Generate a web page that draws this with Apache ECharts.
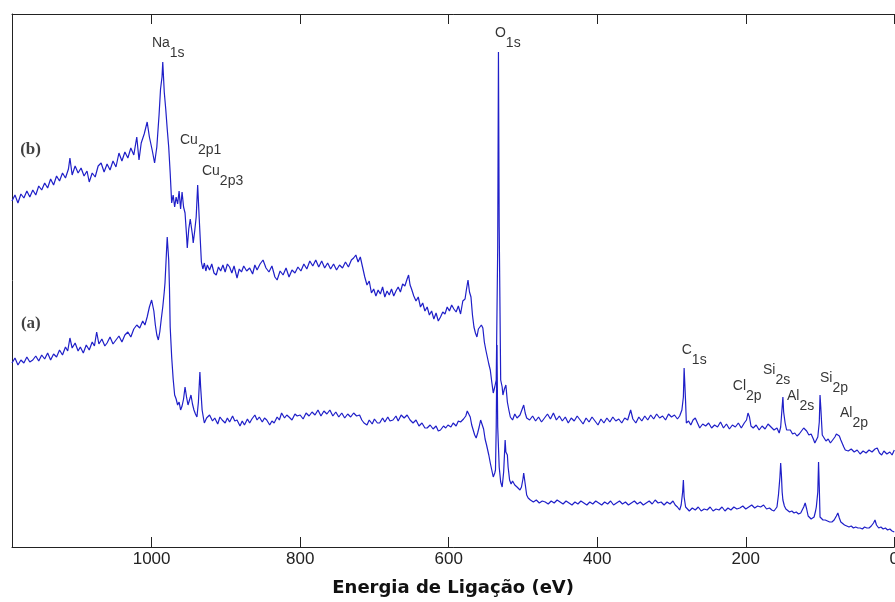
<!DOCTYPE html>
<html>
<head>
<meta charset="utf-8">
<script src="https://cdn.jsdelivr.net/npm/echarts@6/dist/echarts.min.js"></script>
<style>
html,body{margin:0;padding:0;background:#fff;}
#chart{width:895px;height:602px;}
</style>
</head>
<body>
<div id="chart"></div>
<script>
// Binding energy (eV), intensity (arb. units)
const spectrumB = [
[1188,346],[1184,352],[1180,344],[1176,353],[1172,349],[1168,356],[1164,350],[1160,357],[1156,352],[1152,361],
[1148,357],[1144,364],[1140,359],[1136,368],[1132,362],[1128,371],[1124,366],[1120,374],[1116,369],[1112,378],
[1110,389],[1107,372],[1103,381],[1099,374],[1095,379],[1091,371],[1087,376],[1084,365],[1080,374],[1076,370],
[1072,381],[1068,384],[1064,375],[1060,383],[1056,377],[1052,386],[1048,380],[1044,394],[1040,386],[1036,395],
[1032,389],[1028,399],[1024,392],[1020,410],[1017,387],[1014,404],[1010,413],[1006,425],[1003,410],[999,396],
[996,384],[993,400],[990,432],[988,458],[986,470],[985,485],[983,455],[981,438],[979,418],[977,400],
[975,374],[973,344],[971,352],[969,340],[967,350],[965,343],[963,356],[961,338],[959,355],[957,340],
[955,334],[953,312],[952,299],[950,318],[948,328],[947,330],[945,312],[944,304],[942,316],[940,330],
[938,362],[936,330],[934,300],[933,285],[931,278],[929,284],[927,276],[925,282],[922,277],[919,283],
[916,274],[913,272],[910,280],[907,276],[904,282],[901,275],[898,283],[895,280],[892,274],[889,281],
[885,269],[882,278],[879,275],[876,281],[872,276],[868,279],[864,273],[861,282],[858,277],[854,283],
[850,287],[846,279],[842,275],[838,281],[834,270],[831,267],[827,276],[823,272],[819,279],[815,270],
[811,277],[807,274],[803,280],[799,276],[795,283],[791,278],[787,286],[783,281],[779,287],[775,280],
[771,286],[767,279],[763,284],[759,278],[755,283],[751,277],[747,282],[743,279],[739,285],[735,280],
[731,287],[728,289],[725,292],[722,285],[719,290],[716,280],[713,270],[710,262],[707,266],[704,254],
[701,258],[698,251],[695,257],[692,253],[689,260],[686,250],[683,256],[680,252],[677,258],[674,251],
[671,256],[668,260],[665,255],[662,263],[659,261],[656,268],[654,272],[652,262],[650,258],[647,251],
[644,246],[641,250],[638,240],[635,244],[632,236],[629,240],[626,232],[623,236],[620,228],[617,234],
[614,226],[611,230],[608,235],[605,233],[602,240],[599,236],[596,242],[593,238],[590,235],[587,241],
[584,233],[581,246],[578,248],[576,258],[574,267],[572,255],[570,250],[568,232],[566,220],[564,214],
[562,210],[560,218],[558,216],[556,222],[554,219],[552,205],[550,197],[548,190],[546,183],[544,177],
[542,165],[540,154],[538,160],[536,167],[534,300],[533,495],[532,320],[530,167],[528,160],[527,152],
[525,158],[523,162],[521,145],[519,137],[517,130],[514,127],[511,133],[508,129],[504,132],[501,138],
[499,142],[497,134],[495,129],[491,127],[487,131],[483,126],[479,130],[475,125],[471,129],[467,133],
[463,128],[459,134],[455,127],[451,131],[447,126],[443,130],[439,124],[435,129],[431,126],[427,131],
[423,127],[419,123],[415,129],[411,125],[407,130],[403,126],[399,122],[395,128],[391,124],[387,129],
[383,125],[379,130],[375,126],[371,128],[367,124],[363,129],[359,127],[355,137],[352,128],[348,124],
[344,130],[340,126],[336,131],[332,127],[328,132],[324,128],[320,133],[316,129],[312,131],[308,127],
[304,133],[300,130],[296,132],[292,128],[289,131],[286,137],[284,150],[283,179],[281,145],[280,124],
[277,126],[274,122],[271,127],[268,129],[265,124],[262,119],[258,123],[254,121],[250,124],[246,119],
[242,122],[238,120],[234,125],[230,119],[226,123],[222,118],[218,122],[214,120],[210,124],[206,119],
[202,124],[199,127],[197,134],[195,130],[193,121],[190,119],[186,122],[182,117],[178,121],[174,118],
[170,123],[166,120],[162,117],[158,119],[155,114],[153,120],[151,140],[150,150],[149,135],[147,124],
[145,117],[143,115],[140,117],[137,113],[134,114],[131,111],[128,113],[125,116],[122,119],[120,120],
[118,116],[115,112],[112,113],[109,108],[107,104],[105,106],[103,110],[101,125],[100,152],[99,140],
[97,112],[95,110],[92,106],[89,108],[86,104],[83,107],[80,110],[78,113],[76,115],[74,111],
[72,107],[70,106],[68,100],[66,97],[62,96],[58,98],[54,95],[50,97],[46,93],[42,96],
[38,94],[34,97],[30,95],[26,98],[23,99],[20,94],[17,92],[14,96],[10,93],[6,95],[3,92],[0,97]
];

const spectrumA = [
[1188,184],[1184,189],[1180,182],[1176,187],[1172,184],[1168,190],[1164,185],[1160,187],[1156,191],[1152,186],
[1148,192],[1144,188],[1140,194],[1136,187],[1132,193],[1128,190],[1124,197],[1120,192],[1116,200],[1113,196],
[1110,209],[1107,199],[1103,204],[1099,196],[1096,200],[1092,194],[1088,202],[1084,197],[1080,205],[1077,201],
[1074,215],[1071,203],[1067,208],[1063,201],[1060,204],[1056,210],[1052,203],[1048,207],[1044,211],[1040,205],
[1036,212],[1032,215],[1028,210],[1024,218],[1020,222],[1016,219],[1012,226],[1009,222],[1006,230],[1003,240],
[1000,247],[997,236],[995,222],[993,212],[991,207],[989,215],[987,228],[985,240],[983,255],[982,264],
[980,295],[979,310],[977,287],[976,260],[975,220],[973,190],[971,168],[969,152],[967,148],[965,142],
[963,145],[961,137],[959,141],[957,148],[955,160],[953,150],[951,142],[949,147],[947,152],[945,143],
[943,137],[941,133],[939,130],[937,145],[935,175],[934,160],[932,137],[930,128],[929,124],[926,129],
[922,132],[918,126],[915,129],[911,123],[908,130],[905,127],[901,124],[898,129],[895,125],[891,131],
[888,126],[885,127],[881,121],[878,126],[875,122],[871,128],[868,124],[865,128],[861,132],[858,127],
[855,130],[851,125],[848,129],[845,127],[841,122],[838,126],[835,124],[831,130],[828,127],[825,134],
[821,129],[818,132],[815,130],[811,127],[807,133],[804,131],[800,132],[796,128],[792,134],[788,131],
[784,135],[780,132],[776,137],[772,131],[768,136],[764,133],[760,137],[756,131],[752,135],[748,130],
[744,134],[740,129],[736,133],[732,130],[728,134],[724,131],[720,132],[717,127],[714,124],[710,122],
[707,127],[703,123],[700,128],[696,124],[693,124],[689,129],[686,125],[682,130],[679,126],[675,127],
[671,131],[668,126],[664,132],[660,129],[656,132],[652,127],[648,124],[644,127],[640,121],[636,124],
[632,119],[629,119],[625,122],[621,118],[617,121],[614,116],[611,117],[607,121],[604,119],[601,122],
[597,120],[594,124],[590,121],[587,126],[584,125],[580,128],[577,131],[575,136],[573,137],[571,130],
[569,122],[567,117],[565,112],[563,109],[561,114],[559,120],[557,127],[555,129],[553,118],[551,108],
[549,102],[548,100],[546,92],[544,84],[542,77],[540,70],[538,74],[537,77],[536,120],[535,202],
[534,120],[532,80],[530,65],[528,60],[526,75],[524,107],[523,95],[521,92],[520,80],[518,67],
[516,63],[514,66],[511,62],[508,60],[504,57],[502,60],[500,68],[499,74],[497,63],[495,52],
[493,49],[490,47],[486,45],[482,47],[478,44],[474,46],[470,45],[466,43],[462,46],[458,44],
[454,47],[450,45],[446,43],[442,46],[438,44],[434,42],[430,45],[426,43],[422,46],[418,44],
[414,42],[410,45],[406,43],[402,46],[398,44],[394,42],[390,45],[386,43],[382,46],[378,42],
[374,44],[370,46],[366,43],[362,45],[358,42],[354,44],[350,46],[346,43],[342,45],[338,42],
[334,44],[330,46],[326,43],[322,47],[318,44],[314,45],[310,42],[306,45],[302,43],[298,46],
[295,42],[292,40],[289,37],[287,42],[285,55],[284,67],[283,50],[281,40],[279,39],[276,36],
[272,39],[268,37],[264,40],[260,36],[256,38],[252,37],[248,40],[244,36],[240,38],[236,37],
[232,40],[228,36],[224,39],[220,37],[216,40],[212,38],[208,39],[204,41],[200,38],[196,40],
[192,42],[188,39],[184,41],[180,40],[176,42],[172,38],[168,39],[165,37],[162,36],[160,35],
[158,40],[156,52],[154,70],[153,84],[152,72],[151,55],[150,47],[148,41],[146,38],[144,37],
[141,35],[138,36],[135,34],[132,35],[129,33],[126,34],[124,36],[122,40],[120,44],[118,38],
[116,31],[114,29],[112,28],[110,27],[108,30],[106,36],[105,40],[103,55],[102,85],[101,60],
[100,30],[98,28],[96,27],[93,27],[90,26],[87,25],[84,25],[81,27],[78,31],[76,34],
[74,29],[72,25],[70,24],[67,22],[64,21],[61,20],[58,21],[55,19],[52,20],[49,19],
[46,19],[43,18],[40,20],[37,19],[34,19],[31,21],[28,24],[26,27],[24,22],[21,19],
[18,20],[15,18],[12,19],[9,17],[6,18],[3,16],[0,15]
];

// Peak annotations: element, orbital subscript, anchor (eV, intensity)
const peakNames = ['Na','Cu','Cu','O','C','Cl','Si','Al','Si','Al'];
const peakSubs  = ['1s','2p1','2p3','1s','1s','2p','2s','2s','2p','2p'];
const peakEV    = [999.6, 961.8, 932.2, 537.7, 286.2, 217.5, 176.8, 144.5, 100.1, 73.2];
const peakI     = [511, 414, 383, 521, 204, 168, 184, 158, 176, 141];

const curveNames = ['(b)','(a)'];
const curveEV    = [1177, 1176];
const curveI     = [406, 232];

const xTicks = [0, 200, 400, 600, 800, 1000];
const xMin = 0, xMax = 1188, yMin = 0, yMax = 533;
const xTitle = 'Energia de Ligação (eV)';

const chart = echarts.init(document.getElementById('chart'), null, {renderer:'canvas'});
const lineColor = '#1f1fc8';
const axisColor = '#222';

const peakData = peakNames.map((n,i)=>({value:[peakEV[i], peakI[i]], n:n, s:peakSubs[i]}));
const curveData = curveNames.map((n,i)=>({value:[curveEV[i], curveI[i]], n:n}));

chart.setOption({
  animation:false,
  backgroundColor:'#fff',
  grid:{left:12, right:0.7, top:14, bottom:55, containLabel:false, outerBoundsMode:'none'},
  xAxis:[{
    type:'value', inverse:true, min:xMin, max:xMax, interval:200,
    position:'bottom',
    axisLine:{show:true, onZero:false, lineStyle:{color:axisColor, width:1}},
    axisTick:{show:true, inside:true, length:10, lineStyle:{color:axisColor}},
    axisLabel:{show:true, margin:4, fontSize:17, fontFamily:'Liberation Sans, Arial, sans-serif', color:'#222', showMaxLabel:false,
      hideOverlap:false,
      formatter:(v)=> xTicks.indexOf(v) >= 0 ? String(v) : ''},
    splitLine:{show:false},
    name:xTitle, nameLocation:'middle', nameGap:32,
    nameTextStyle:{fontSize:18, fontWeight:'bold', fontFamily:'DejaVu Sans, Verdana, sans-serif', color:'#111'}
  },{
    type:'value', inverse:true, min:xMin, max:xMax, interval:200,
    position:'top',
    axisLine:{show:true, onZero:false, lineStyle:{color:axisColor, width:1}},
    axisTick:{show:true, inside:true, length:10, lineStyle:{color:axisColor}},
    axisLabel:{show:false}, splitLine:{show:false}
  }],
  yAxis:{
    type:'value', min:yMin, max:yMax,
    axisLine:{show:true, onZero:false, lineStyle:{color:axisColor, width:1}},
    axisTick:{show:false}, axisLabel:{show:false}, splitLine:{show:false}
  },
  series:[
    {type:'line', name:'(b)', data:spectrumB, showSymbol:false, symbol:'none',
     lineStyle:{color:lineColor, width:1.2}, z:3},
    {type:'line', name:'(a)', data:spectrumA, showSymbol:false, symbol:'none',
     lineStyle:{color:lineColor, width:1.2}, z:3},
    {type:'scatter', data:peakData, symbolSize:0, silent:true, z:5,
     label:{show:true, position:[0,0], align:'left', verticalAlign:'top',
       formatter:(p)=>'{m|'+p.data.n+'}{s|'+p.data.s+'}{h| }',
       rich:{
         m:{fontSize:14, fontFamily:'Liberation Sans, Arial, sans-serif', color:'#000', lineHeight:14, verticalAlign:'top'},
         s:{fontSize:14, fontFamily:'Liberation Sans, Arial, sans-serif', color:'#000', lineHeight:14, verticalAlign:'bottom'},
         h:{fontSize:4, lineHeight:24, width:0}
       }}},
    {type:'scatter', data:curveData, symbolSize:0, silent:true, z:5,
     label:{show:true, position:[0,0], align:'left', verticalAlign:'top',
       formatter:(p)=>p.data.n,
       fontSize:17, fontWeight:'bold', fontFamily:'Liberation Serif, Times New Roman, serif', color:'#111'}}
  ]
});
</script>
</body>
</html>
